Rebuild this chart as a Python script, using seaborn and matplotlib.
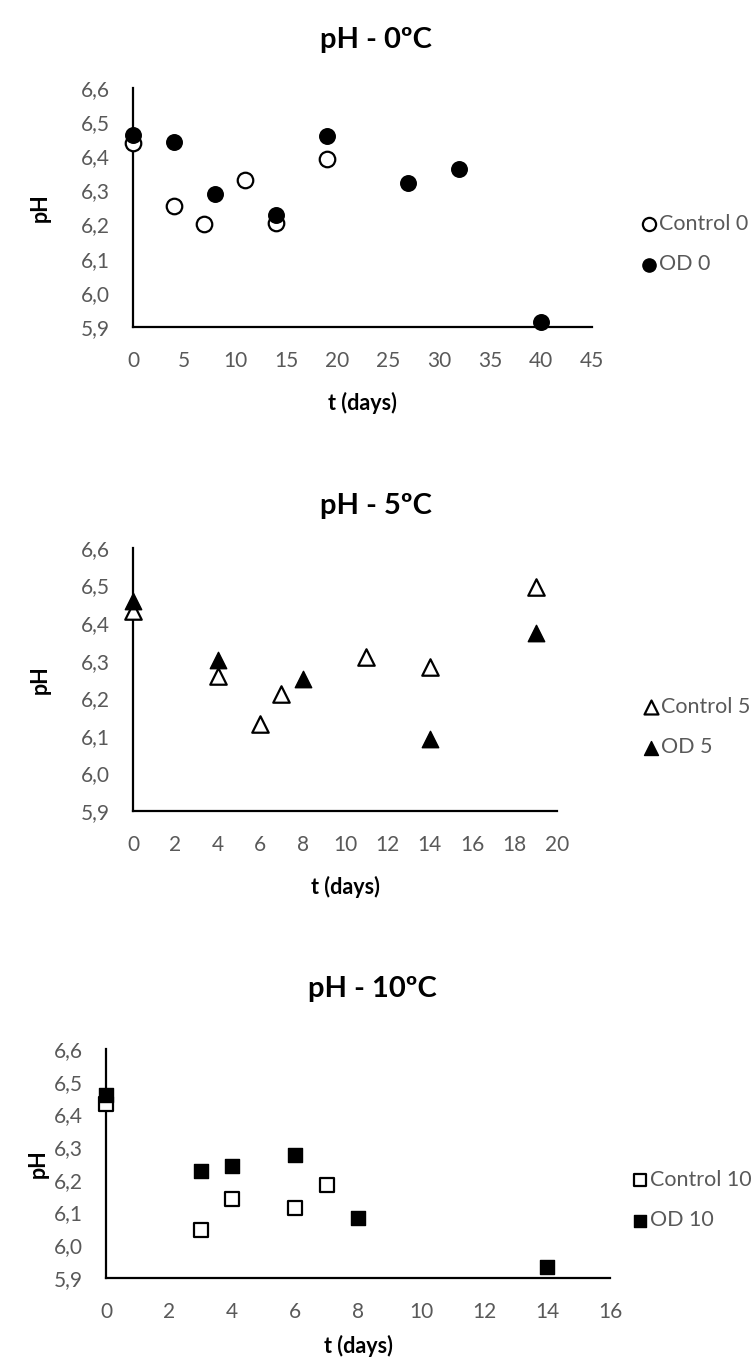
import matplotlib
matplotlib.use("Agg")
import matplotlib.pyplot as plt
import seaborn as sns
import pandas as pd

sns.set_theme(style="white")
plt.rcParams['font.family'] = ['Lato', 'DejaVu Sans']

# ---------------- data ----------------
# 0 ºC
t_ctrl0 = [0, 4, 7, 11, 14, 19]
ph_ctrl0 = [6.438, 6.255, 6.201, 6.331, 6.205, 6.393]
t_od0 = [0, 4, 8, 14, 19, 27, 32, 40]
ph_od0 = [6.463, 6.441, 6.291, 6.227, 6.458, 6.321, 6.362, 5.914]

# 5 ºC
t_ctrl5 = [0, 4, 6, 7, 11, 14, 19]
ph_ctrl5 = [6.431, 6.260, 6.131, 6.212, 6.309, 6.283, 6.495]
t_od5 = [0, 4, 8, 14, 19]
ph_od5 = [6.460, 6.302, 6.252, 6.091, 6.373]

# 10 ºC
t_ctrl10 = [0, 3, 4, 6, 7]
ph_ctrl10 = [6.432, 6.047, 6.140, 6.114, 6.183]
t_od10 = [0, 3, 4, 6, 8, 14]
ph_od10 = [6.458, 6.228, 6.242, 6.276, 6.083, 5.935]

y_ticks = [5.9, 6.0, 6.1, 6.2, 6.3, 6.4, 6.5, 6.6]
y_ticklabels = ["5,9", "6,0", "6,1", "6,2", "6,3", "6,4", "6,5", "6,6"]

titles = ["pH - 0ºC", "pH - 5ºC", "pH - 10ºC"]
xlabel = "t (days)"
ylabel = "pH"
legend_labels = [("Control 0", "OD 0"), ("Control 5", "OD 5"), ("Control 10", "OD 10")]
x_ticks = [list(range(0, 50, 5)), list(range(0, 22, 2)), list(range(0, 18, 2))]
x_max = [45, 20, 16]

# ---------------- layout ----------------
W, H = 753, 1360
fig = plt.figure(figsize=(W / 100, H / 100), dpi=100)
fig.patch.set_facecolor("white")


def rect(l, r, t, b):
    return [l / W, 1 - b / H, (r - l) / W, (b - t) / H]


panels = [
    dict(box=(133, 592, 88, 327), title=(376, 40), xlabel_y=403, ylabel_x=40, leg=(640, 244)),
    dict(box=(133, 557, 548, 811), title=(376, 506), xlabel_y=887, ylabel_x=40, leg=(642, 727)),
    dict(box=(106, 610, 1049, 1278), title=(372, 989), xlabel_y=1346, ylabel_x=38, leg=(631, 1200)),
]

series = [
    (t_ctrl0, ph_ctrl0, t_od0, ph_od0, "o", 125),
    (t_ctrl5, ph_ctrl5, t_od5, ph_od5, "^", 140),
    (t_ctrl10, ph_ctrl10, t_od10, ph_od10, "s", 115),
]

tick_color = "#595959"

for i, p in enumerate(panels):
    l, r, t, b = p["box"]
    ax = fig.add_axes(rect(l, r, t, b))
    tc, pc, to, po, mk, sz = series[i]
    df_c = pd.DataFrame({"t": tc, "pH": pc})
    df_o = pd.DataFrame({"t": to, "pH": po})
    sns.scatterplot(data=df_c, x="t", y="pH", marker=mk, s=sz, color="white",
                    edgecolor="black", linewidth=1.6, ax=ax, label=legend_labels[i][0],
                    clip_on=False, zorder=3)
    sns.scatterplot(data=df_o, x="t", y="pH", marker=mk, s=sz, color="black",
                    edgecolor="black", linewidth=1.0, ax=ax, label=legend_labels[i][1],
                    clip_on=False, zorder=4)
    ax.set_xlim(0, x_max[i])
    ax.set_ylim(5.9, 6.6)
    ax.set_xticks(x_ticks[i])
    ax.set_xticklabels([str(v) for v in x_ticks[i]])
    ax.set_yticks(y_ticks)
    ax.set_yticklabels(y_ticklabels)
    ax.tick_params(axis="both", length=0, labelsize=15, labelcolor=tick_color)
    ax.tick_params(axis="y", pad=17)
    ax.tick_params(axis="x", pad=17)
    for s in ["top", "right"]:
        ax.spines[s].set_visible(False)
    for s in ["left", "bottom"]:
        ax.spines[s].set_color("black")
        ax.spines[s].set_linewidth(1.6)
    ax.set_xlabel("")
    ax.set_ylabel("")
    ax.set_facecolor("none")
    ax.grid(False)

    tx, ty = p["title"]
    fig.text(tx / W, 1 - ty / H, titles[i], ha="center", va="center",
             fontsize=21, fontweight="bold", color="black")
    fig.text((l + r) / 2 / W, 1 - p["xlabel_y"] / H, xlabel, ha="center", va="center",
             fontsize=15.5, fontweight="bold", color="black")
    fig.text(p["ylabel_x"] / W, 1 - (t + b) / 2 / H, ylabel, ha="center", va="center",
             rotation=90, fontsize=15.5, fontweight="bold", color="black")

    lx, ly = p["leg"]
    leg = ax.legend(loc="center left", bbox_to_anchor=(lx / W, 1 - ly / H),
                    bbox_transform=fig.transFigure, frameon=False, fontsize=15.5,
                    handletextpad=0.1, labelspacing=0.95, borderpad=0, borderaxespad=0,
                    markerscale=0.85, handlelength=0.8)
    for txt in leg.get_texts():
        txt.set_color(tick_color)

fig.savefig("out.png", dpi=100, facecolor="white")
